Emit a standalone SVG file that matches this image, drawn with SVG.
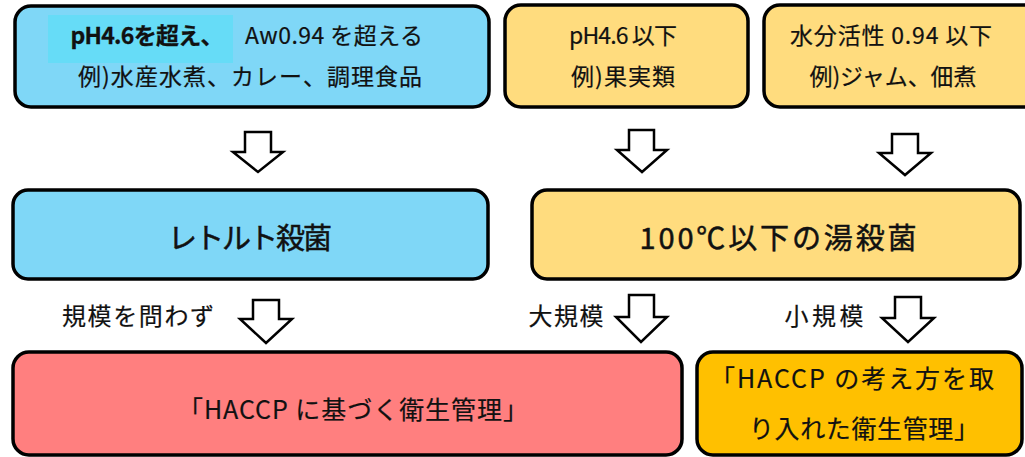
<svg xmlns="http://www.w3.org/2000/svg" width="1025" height="457" viewBox="0 0 1025 457">
<style>
.box{stroke:#000;stroke-width:3.5}
.blue{fill:#7fd7f7}
.yellow{fill:#ffdc7e}
.red{fill:#ff7f7f}
.orange{fill:#ffc000}
.arrow{fill:#fff;stroke:#000;stroke-width:2.5;stroke-linejoin:miter}
text{font-family:"Noto Sans CJK JP","Noto Sans",sans-serif;fill:#111;text-anchor:middle;font-weight:normal;stroke:#111;stroke-width:0.2}
.t23{font-size:23px}
.t24{font-size:24px}
.t25{font-size:25px}
.big{font-size:29px;stroke-width:0.5}
.b{font-weight:bold;stroke-width:0.3}
</style>
<rect width="1025" height="457" fill="#fff"/>
<g id="node-top-left">
<rect class="box blue" x="15" y="6" width="474" height="101" rx="16"/>
<rect x="48" y="15" width="185" height="48" fill="#66dcf7" stroke="none"/>
<text class="t23 b" x="147" y="44" textLength="153" lengthAdjust="spacing">pH4.6を超え、</text>
<text class="t23" x="334" y="44" textLength="178" lengthAdjust="spacing">Aw0.94 を超える</text>
<text class="t23" x="250" y="85" textLength="344" lengthAdjust="spacing">例)水産水煮、カレー、調理食品</text>
</g>
<g id="node-top-mid">
<rect class="box yellow" x="505" y="5" width="243" height="102" rx="16"/>
<text class="t23" x="623" y="44" textLength="108" lengthAdjust="spacing">pH4.6 以下</text>
<text class="t23" x="623" y="85" textLength="104" lengthAdjust="spacing">例)果実類</text>
</g>
<g id="node-top-right">
<rect class="box yellow" x="764" y="5" width="280" height="102" rx="16"/>
<text class="t23" x="891" y="44" textLength="202" lengthAdjust="spacing">水分活性 0.94 以下</text>
<text class="t23" x="893" y="85" textLength="167" lengthAdjust="spacing">例)ジャム、佃煮</text>
</g>
<g id="node-retort">
<rect class="box blue" x="13" y="190" width="475" height="89" rx="15"/>
<text class="big" x="250" y="249" textLength="164" lengthAdjust="spacing">レトルト殺菌</text>
</g>
<g id="node-hot-water">
<rect class="box yellow" x="532" y="190" width="488" height="89" rx="15"/>
<text class="big" x="778" y="249" textLength="277" lengthAdjust="spacing">100℃以下の湯殺菌</text>
</g>
<g id="node-haccp">
<rect class="box red" x="13" y="352" width="669" height="103" rx="16"/>
<text class="t25" x="353" y="419" textLength="350" lengthAdjust="spacing">「HACCP に基づく衛生管理」</text>
</g>
<g id="node-haccp-approach">
<rect class="box orange" x="697" y="352" width="325" height="103" rx="16"/>
<text class="t25" x="852" y="388" textLength="284" lengthAdjust="spacing">「HACCP の考え方を取</text>
<text class="t25" x="864" y="438" textLength="230" lengthAdjust="spacing">り入れた衛生管理」</text>
</g>
<g id="connectors">
<polygon class="arrow" points="245,132 271,132 271,152 283,152 258,172 233,152 245,152"/>
<polygon class="arrow" points="629,130 654,130 654,150 667,150 642,172 617,150 629,150"/>
<polygon class="arrow" points="892,134 918,134 918,153 931,153 905,175 879,153 892,153"/>
<polygon class="arrow" points="253,300 279,300 279,319 292,319 266,343 240,319 253,319"/>
<polygon class="arrow" points="629,295 654,295 654,317 667,317 641,342 616,317 629,317"/>
<polygon class="arrow" points="895,297 921,297 921,318 934,318 908,342 882,318 895,318"/>
<text class="t24" x="138" y="325" textLength="152" lengthAdjust="spacing">規模を問わず</text>
<text class="t24" x="566" y="325" textLength="75" lengthAdjust="spacing">大規模</text>
<text class="t24" x="824" y="325" textLength="79" lengthAdjust="spacing">小規模</text>
</g>
</svg>
